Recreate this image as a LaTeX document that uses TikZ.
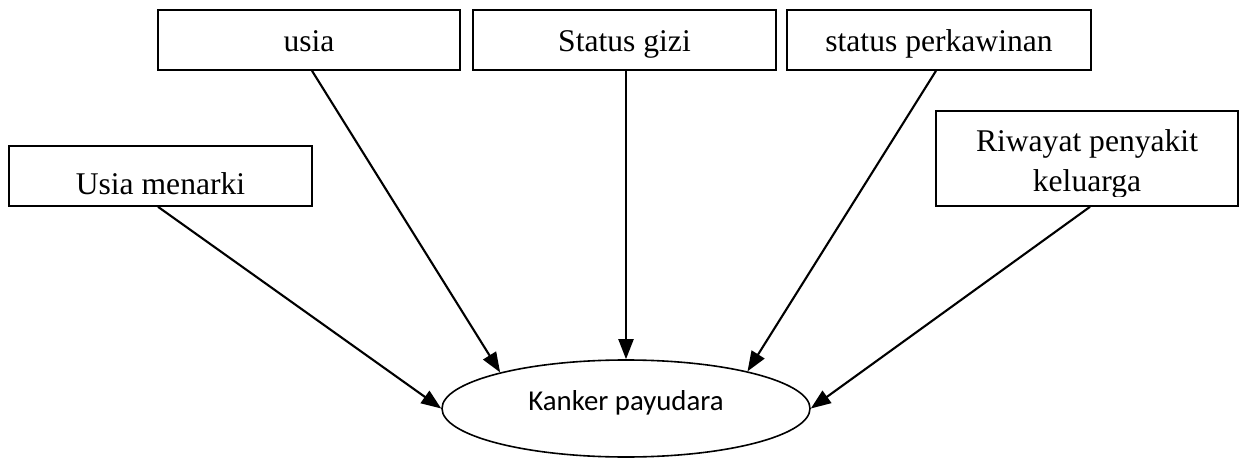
\documentclass[tikz,border=0pt]{standalone}
\usepackage{fontspec}
\setmainfont{Liberation Serif}
\newfontfamily\calib{Carlito}
\usetikzlibrary{shapes.geometric,arrows.meta}
\begin{document}
\begin{tikzpicture}[x=0.5pt,y=-0.5pt,
  txtfont/.style={font=\fontsize{15.8}{19}\selectfont},
  boxnode/.style={draw, line width=0.8pt, rectangle, inner sep=0pt,
    minimum width=151pt, minimum height=30pt, txtfont,
    text height=12pt, text depth=0pt},
  arr/.style={line width=1.05pt, -{Triangle[length=10pt,width=7.5pt]}}]
\useasboundingbox (0,0) rectangle (1240,459);
\node[boxnode] (usia) at (309,40) {usia};
\node[boxnode, minimum width=151.5pt] (gizi) at (624.5,40) {Status gizi};
\node[boxnode, minimum width=152pt] (kawin) at (939,40) {status perkawinan};
\node[boxnode, minimum width=151.5pt, text height=19pt] (menarki) at (160.5,176) {Usia menarki};
\node[boxnode, minimum height=47.5pt] (riwayat) at (1087,158.5) {};
\begin{scope}
  \clip (936,111) rectangle (1238,197);
  \node[txtfont, anchor=base, inner sep=0pt] (rw1) at (1087,152) {Riwayat penyakit};
  \node[txtfont, anchor=base, inner sep=0pt] (rw2) at (1087,192) {keluarga};
\end{scope}
\node[ellipse, draw, line width=0.8pt, minimum width=184pt, minimum height=48.5pt,
  inner sep=0pt, font=\calib\fontsize{14.4}{17}\selectfont,
  text height=8pt, text depth=6pt] (kp) at (626,408.5) {Kanker payudara};
\draw[arr] ([xshift=-1.25pt]menarki.south) -- (kp.west);
\draw[arr] ([xshift=1.5pt]usia.south) -- (kp.164);
\draw[arr] ([xshift=0.75pt]gizi.south) -- (kp.north);
\draw[arr] ([xshift=-1.5pt]kawin.south) -- (kp.17);
\draw[arr] ([xshift=1.5pt]riwayat.south) -- (kp.east);
\end{tikzpicture}
\end{document}
